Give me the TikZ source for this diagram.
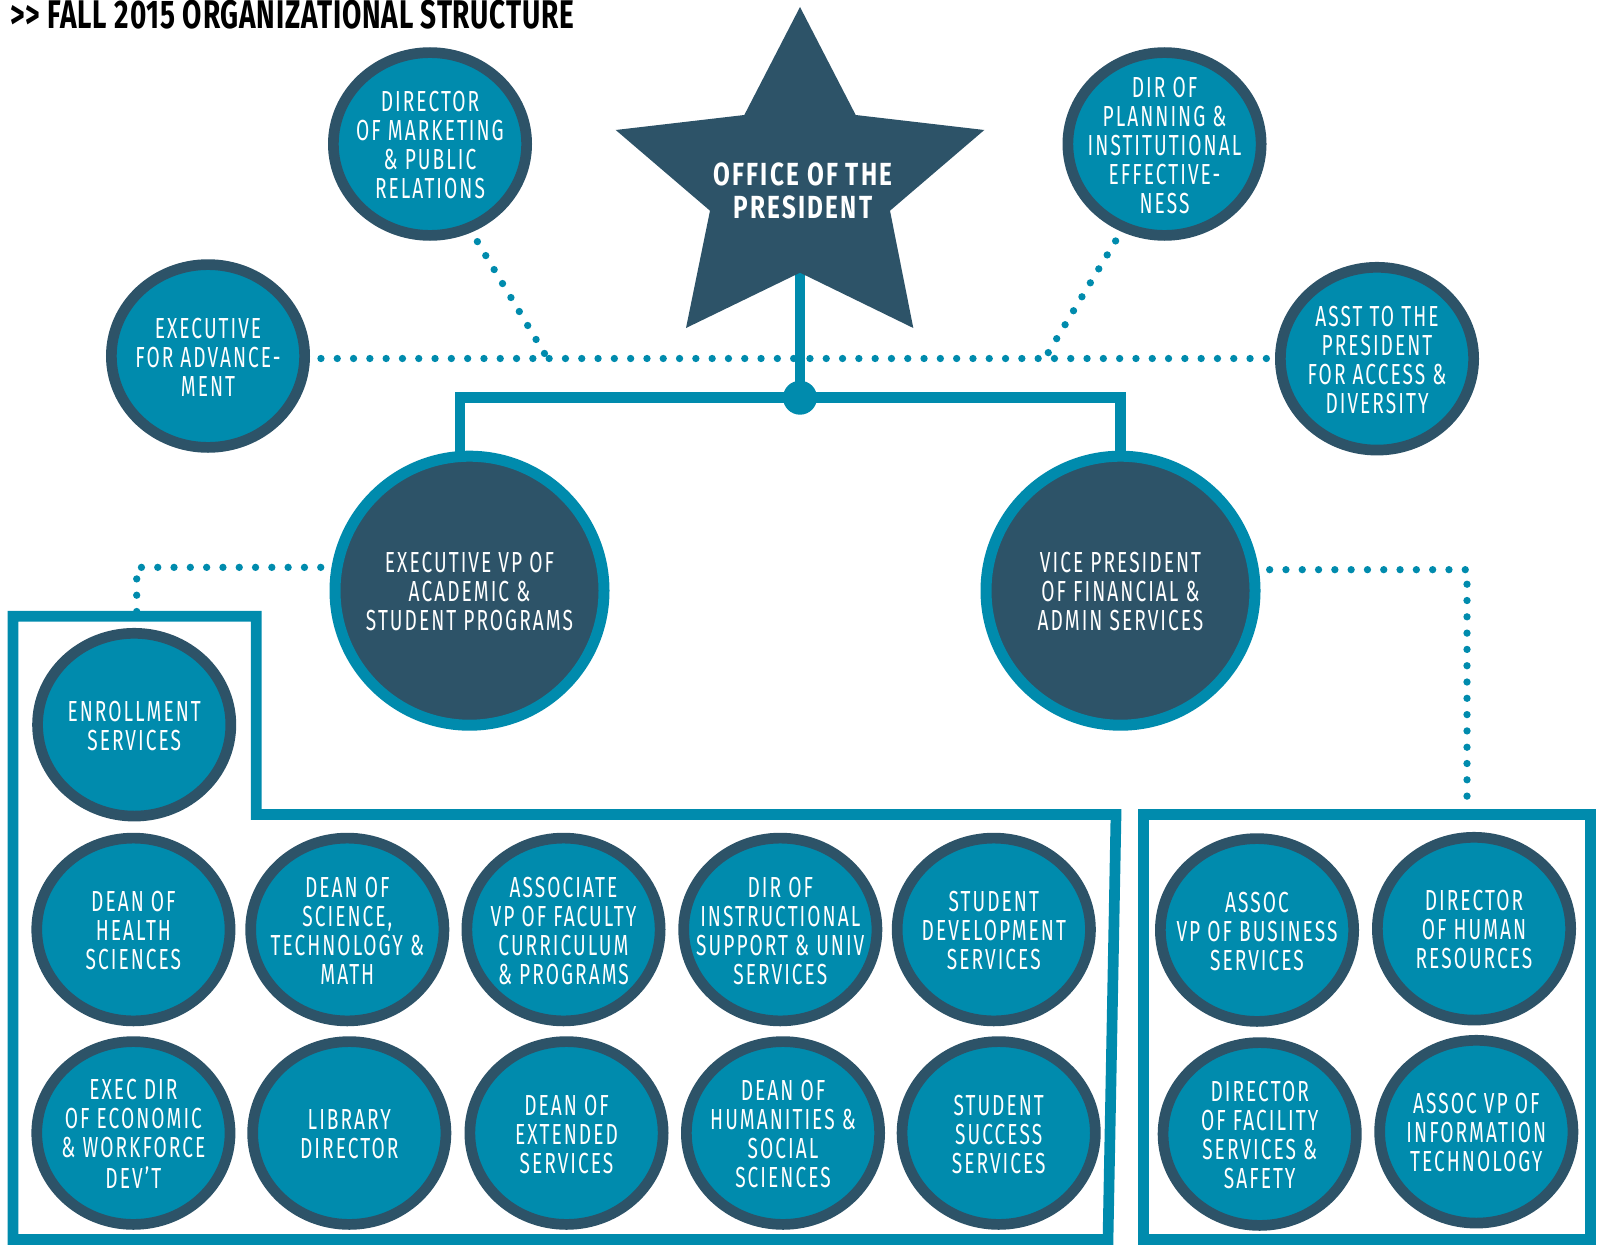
\documentclass[tikz,border=0pt]{standalone}
\usepackage{fontspec}
\setmainfont{Fira Sans}
\newfontfamily\lblfont[FakeStretch=0.66,LetterSpace=7]{Fira Sans}
\newfontfamily\starfont[FakeStretch=0.76,LetterSpace=7]{Fira Sans}
\newfontfamily\ttlfont[FakeStretch=0.70,LetterSpace=2]{Fira Sans}
\usetikzlibrary{shapes.geometric}
\definecolor{tealc}{HTML}{008BAD}
\definecolor{navyc}{HTML}{2D5368}
\pgfdeclarelayer{bg}
\pgfsetlayers{bg,main}
% centred block of lines that does not change the size of its node
\newcommand{\ctr}[1]{\smash{\makebox[0pt]{\raisebox{-11.5pt}{\begin{tabular}{@{}c@{}}#1\end{tabular}}}}}
\tikzset{
  smallc/.style={ellipse, draw=navyc, fill=tealc, line width=10.7,
    minimum width=193.3, minimum height=182.8, inner sep=0, outer sep=0,
    text=white, font=\lblfont\fontsize{29}{29}\selectfont},
  bigc/.style={circle, draw=tealc, fill=navyc, line width=11,
    minimum size=269, inner sep=0, outer sep=0,
    text=white, font=\lblfont\fontsize{29}{29}\selectfont},
  dotline/.style={draw=tealc, line width=7.3, line cap=round,
    dash pattern=on 0pt off 16.3pt},
  solidline/.style={draw=tealc, line width=10.7},
  frame/.style={draw=tealc, line width=10.7, line join=miter},
}
\begin{document}
\begin{tikzpicture}[x=1pt,y=-1pt]
\useasboundingbox (0,0) rectangle (1597,1244);

% heading
\node[anchor=base west, inner sep=0, font=\ttlfont\bfseries\fontsize{40}{40}\selectfont]
  (title) at (10,28.5) {{>}{>} FALL 2015 ORGANIZATIONAL STRUCTURE};

% the president's star
\fill[navyc] (800,7) -- (855.7,115) -- (984.3,130) -- (890,210.7) -- (913.3,328)
  -- (800,272.7) -- (686,328) -- (710,210.7) -- (615.7,130) -- (744.3,115) -- cycle;
\coordinate (starfoot) at (800,272.7);
\node[text=white, inner sep=0, font=\starfont\bfseries\fontsize{32}{33}\selectfont]
  (pres) at (803,190.4) {\ctr{OFFICE OF THE\\PRESIDENT}};

% direct reports around the star
\node[smallc] (mkt)  at (430,144)    {\ctr{DIRECTOR\\OF MARKETING\\\& PUBLIC\\RELATIONS}};
\node[smallc] (plan) at (1164.5,144) {\ctr{DIR OF\\PLANNING \&\\INSTITUTIONAL\\EFFECTIVE-\\NESS}};
\node[smallc] (adv)  at (208,356)    {\ctr{EXECUTIVE\\FOR ADVANCE-\\MENT}};
\node[smallc] (asst) at (1377,358.7) {\ctr{ASST TO THE\\PRESIDENT\\FOR ACCESS \&\\DIVERSITY}};

% vice presidents
\node[bigc] (evp) at (469.5,590.7) {\ctr{EXECUTIVE VP OF\\ACADEMIC \&\\STUDENT PROGRAMS}};
\node[bigc] (vp)  at (1120.5,590.7) {\ctr{VICE PRESIDENT\\OF FINANCIAL \&\\ADMIN SERVICES}};
\node[circle, fill=tealc, minimum size=34, inner sep=0] (jn) at (800,397.7) {};

% academic and student programs
\node[smallc] (enr)    at (134.2,724.7) {\ctr{ENROLLMENT\\SERVICES}};
\node[smallc] (health) at (133.4,929.5) {\ctr{DEAN OF\\HEALTH\\SCIENCES}};
\node[smallc] (sci)    at (347.3,929.5) {\ctr{DEAN OF\\SCIENCE,\\TECHNOLOGY \&\\MATH}};
\node[smallc] (assoc)  at (563.5,929.5) {\ctr{ASSOCIATE\\VP OF FACULTY\\CURRICULUM\\\& PROGRAMS}};
\node[smallc] (instr)  at (780.3,929.5) {\ctr{DIR OF\\INSTRUCTIONAL\\SUPPORT \& UNIV\\SERVICES}};
\node[smallc] (sdev)   at (993.8,929.5) {\ctr{STUDENT\\DEVELOPMENT\\SERVICES}};
\node[smallc] (econ)   at (133.4,1133)  {\ctr{EXEC DIR\\OF ECONOMIC\\\& WORKFORCE\\DEV’T}};
\node[smallc] (lib)    at (349.3,1133)  {\ctr{LIBRARY\\DIRECTOR}};
\node[smallc] (ext)    at (566.5,1133)  {\ctr{DEAN OF\\EXTENDED\\SERVICES}};
\node[smallc] (hum)    at (783,1133)    {\ctr{DEAN OF\\HUMANITIES \&\\SOCIAL\\SCIENCES}};
\node[smallc] (ssucc)  at (998.7,1133)  {\ctr{STUDENT\\SUCCESS\\SERVICES}};

% financial and admin services
\node[smallc] (bus) at (1257,930)     {\ctr{ASSOC\\VP OF BUSINESS\\SERVICES}};
\node[smallc] (hr)  at (1474,928.7)   {\ctr{DIRECTOR\\OF HUMAN\\RESOURCES}};
\node[smallc] (fac) at (1259.7,1134)  {\ctr{DIRECTOR\\OF FACILITY\\SERVICES \&\\SAFETY}};
\node[smallc] (it)  at (1476.3,1131.7){\ctr{ASSOC VP OF\\INFORMATION\\TECHNOLOGY}};

% group frames
\draw[frame] (13,616.3) -- (256.3,616.3) -- (256.3,814.5) -- (1116,814.5)
  -- (1108,1239.5) -- (13,1239.5) -- cycle;
\draw[frame] (1143.8,814.7) rectangle (1590.3,1239.7);
\coordinate (lbtop) at (136.7,616.3);
\coordinate (rbtop) at (1467,810);
\coordinate (mkfoot) at (547.5,358.5);
\coordinate (plfoot) at (1044.7,358.5);

\begin{pgfonlayer}{bg}
  % dotted advisory links
  \draw[dotline] (adv.east |- mkfoot) -- (asst.west |- mkfoot);
  \draw[dotline] (mkt.-65) -- (mkfoot);
  \draw[dotline] (plan.-116.6) -- (plfoot);
  \draw[dotline] (evp.170.5) -| (lbtop);
  \draw[dotline] (vp.9.2) -| (rbtop);
  % solid reporting lines
  \draw[solidline] (starfoot) -- (jn.center);
  \draw[solidline] ([xshift=-9.5]evp.north) |- (jn.center) -| (vp.north);
\end{pgfonlayer}
\end{tikzpicture}
\end{document}
